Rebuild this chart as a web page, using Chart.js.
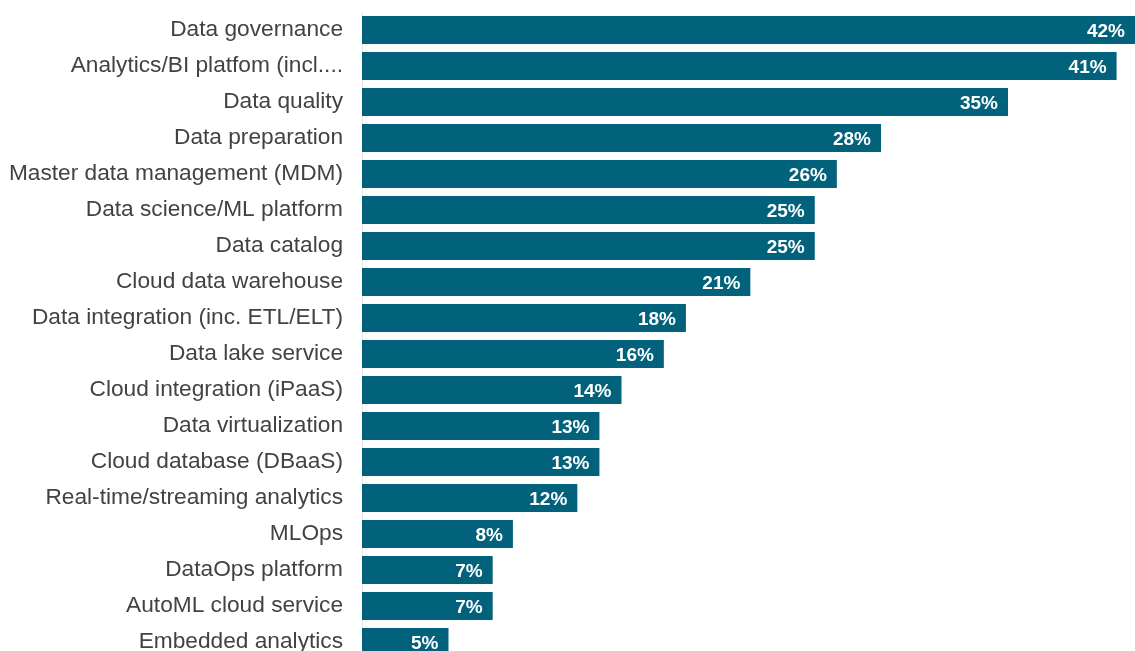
<!DOCTYPE html>
<html>
<head>
<meta charset="utf-8">
<script src="https://cdn.jsdelivr.net/npm/chart.js@4"></script>
<style>
    html, body { margin: 0; padding: 0; background: #fff; overflow: hidden; }
    #wrap { width: 1135px; height: 651px; overflow: hidden; }
</style>
</head>
<body>
<div id="wrap">
    <canvas id="toolsChart" width="1135" height="680"></canvas>
</div>
<script>
// Categories, top to bottom
const categories = [
    'Data governance', 'Analytics/BI platfom (incl....', 'Data quality', 'Data preparation',
    'Master data management (MDM)', 'Data science/ML platform', 'Data catalog',
    'Cloud data warehouse', 'Data integration (inc. ETL/ELT)', 'Data lake service',
    'Cloud integration (iPaaS)', 'Data virtualization', 'Cloud database (DBaaS)',
    'Real-time/streaming analytics', 'MLOps', 'DataOps platform', 'AutoML cloud service',
    'Embedded analytics'
];

// Share of respondents (%)
const shares = [42, 41, 35.1, 28.2, 25.8, 24.6, 24.6, 21.1, 17.6, 16.4, 14.1, 12.9, 12.9, 11.7, 8.2, 7.1, 7.1, 4.7];

// Printed labels on the bars
const shareLabels = ['42%', '41%', '35%', '28%', '26%', '25%', '25%', '21%', '18%', '16%', '14%', '13%', '13%', '12%', '8%', '7%', '7%', '5%'];

const barColor = '#02627C';

// Simple inline plugin to write the value inside the end of each bar
const barValueLabels = {
    id: 'barValueLabels',
    afterDatasetsDraw(chart) {
        const ctx = chart.ctx;
        const meta = chart.getDatasetMeta(0);
        ctx.save();
        ctx.fillStyle = '#ffffff';
        ctx.font = 'bold 19px "Liberation Sans", Arial, sans-serif';
        ctx.textAlign = 'right';
        ctx.textBaseline = 'middle';
        meta.data.forEach((bar, i) => {
            ctx.fillText(shareLabels[i], bar.x - 10, bar.y + 2);
        });
        ctx.restore();
    }
};

new Chart(document.getElementById('toolsChart'), {
    type: 'bar',
    data: {
        labels: categories,
        datasets: [{
            data: shares,
            backgroundColor: barColor,
            borderWidth: 0,
            barPercentage: 1,
            categoryPercentage: 0.78
        }]
    },
    options: {
        indexAxis: 'y',
        responsive: false,
        animation: false,
        layout: { padding: { top: 12, bottom: 20, left: 0, right: 0 } },
        plugins: {
            legend: { display: false },
            tooltip: { enabled: false }
        },
        scales: {
            x: {
                display: false,
                min: 0,
                max: 42
            },
            y: {
                grid: { display: false, drawTicks: false },
                border: { display: true, color: '#e3e3e3', width: 1 },
                ticks: {
                    color: '#424242',
                    padding: 19,
                    font: { family: '"Liberation Sans", Arial, sans-serif', size: 22.7 }
                },
                afterFit(scale) {
                    scale.width = 362; // bars start at x=362
                    scale.paddingTop = 0;
                    scale.paddingBottom = 0;
                }
            }
        }
    },
    plugins: [barValueLabels]
});
</script>
</body>
</html>
